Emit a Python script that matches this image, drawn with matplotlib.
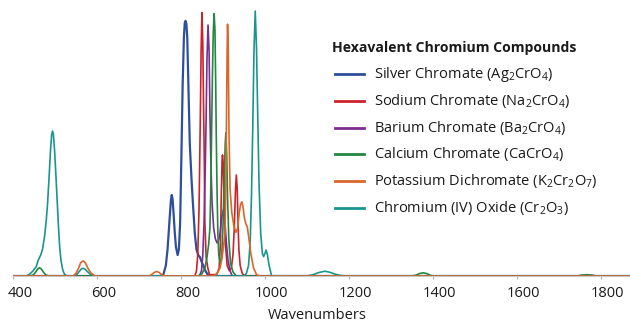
import matplotlib
matplotlib.use("Agg")
import matplotlib.pyplot as plt
from matplotlib.lines import Line2D
from matplotlib.transforms import ScaledTranslation

plt.rcParams["font.family"] = ["Open Sans", "DejaVu Sans"]
plt.rcParams["mathtext.default"] = "regular"

# Spektrai nuskaityti is paveikslo: (bangos skaicius, santykinis intensyvumas)
silver_x = [400, 750, 758, 764, 768, 771, 774, 776, 778, 780, 782, 785, 788, 792, 795,
            798, 801, 804, 807, 809, 811, 813, 815, 818, 821, 825, 828, 833, 837, 841,
            845, 849, 853, 858, 863, 869, 1870]
silver_y = [0, 0, 0.005, 0.04, 0.1, 0.17, 0.24, 0.285, 0.306, 0.29, 0.245, 0.17, 0.11, 0.079, 0.1,
            0.2, 0.45, 0.72, 0.9, 0.955, 0.963, 0.95, 0.9, 0.7, 0.5, 0.37, 0.287, 0.16, 0.1, 0.079,
            0.072, 0.055, 0.04, 0.02, 0.007, 0, 0]

sodium_x = [400, 833, 837, 840, 843, 846, 848, 850, 852, 854, 855.5, 857, 860, 864, 868,
            885, 891, 894, 896, 898, 899, 900.5, 903, 906, 910, 915, 920, 924, 927, 930,
            932, 934, 936, 938, 941, 946, 952, 1870]
sodium_y = [0, 0, 0.02, 0.08, 0.25, 0.58, 0.85, 0.994, 0.88, 0.62, 0.45, 0.2, 0.07, 0.03, 0.005,
            0.005, 0.03, 0.12, 0.3, 0.44, 0.457, 0.43, 0.28, 0.12, 0.04, 0.02, 0.03, 0.08, 0.18, 0.33,
            0.381, 0.33, 0.2, 0.1, 0.04, 0.01, 0, 0]

barium_x = [400, 844, 849, 852, 855, 858, 860, 862, 864.5, 867, 869, 871, 874, 878, 882,
            886, 889, 893, 897, 901, 904, 908, 912, 917, 922, 1745, 1755, 1767, 1779, 1790, 1870]
barium_y = [0, 0, 0.02, 0.08, 0.2, 0.42, 0.6, 0.82, 0.947, 0.85, 0.62, 0.45, 0.28, 0.18, 0.14,
            0.125, 0.13, 0.16, 0.22, 0.25, 0.22, 0.13, 0.06, 0.02, 0, 0, 0.002, 0.004, 0.002, 0, 0]

calcium_x = [400, 440, 448, 454, 459, 463, 467, 472, 478, 485, 840, 850, 857, 862, 866,
             869, 871, 873, 875, 877, 879, 881, 883, 884, 886, 888, 890, 893, 897, 900,
             903, 905.5, 907, 909, 911, 914, 918, 924, 932, 1350, 1360, 1368, 1377, 1386, 1394,
             1402, 1745, 1755, 1767, 1779, 1790, 1870]
calcium_y = [0, 0, 0.004, 0.015, 0.027, 0.031, 0.027, 0.015, 0.004, 0, 0, 0.008, 0.03, 0.07, 0.12,
             0.18, 0.32, 0.54, 0.76, 0.92, 0.99, 0.93, 0.7, 0.54, 0.32, 0.16, 0.08, 0.05, 0.07, 0.18,
             0.36, 0.5, 0.54, 0.46, 0.3, 0.14, 0.05, 0.015, 0, 0, 0.003, 0.009, 0.012, 0.009, 0.003,
             0, 0, 0.003, 0.005, 0.003, 0, 0]

potassium_x = [400, 543, 550, 556, 561, 567, 572, 578, 585, 595, 725, 732, 737, 742, 747,
               753, 760, 878, 886, 893, 898, 902, 905, 907, 908.5, 910, 911, 912.5, 914.5, 917,
               921, 926, 931, 935, 939, 942, 945, 948, 951, 955, 958, 962, 967, 973, 980,
               988, 1870]
potassium_y = [0, 0, 0.01, 0.03, 0.05, 0.057, 0.05, 0.03, 0.012, 0, 0, 0.008, 0.014, 0.017, 0.014,
               0.007, 0, 0, 0.01, 0.03, 0.07, 0.12, 0.16, 0.35, 0.6, 0.85, 0.95, 0.88, 0.54, 0.33,
               0.24, 0.19, 0.165, 0.18, 0.24, 0.27, 0.28, 0.26, 0.22, 0.195, 0.186, 0.14, 0.08, 0.03, 0.005,
               0, 0]

oxide_x = [400, 432, 440, 448, 455, 460, 466, 470, 475, 479, 482, 486, 489, 492, 494,
           496, 499, 502, 505, 508, 511, 514, 518, 522, 528, 545, 552, 558, 563, 567,
           572, 578, 585, 595, 950, 956, 961, 965, 968, 971, 974, 977, 980, 983, 986,
           990, 994, 997, 1000, 1003, 1006, 1010, 1016, 1100, 1115, 1128, 1143, 1155, 1167, 1180,
           1195, 1870]
oxide_y = [0, 0, 0.008, 0.02, 0.035, 0.06, 0.08, 0.1, 0.15, 0.21, 0.27, 0.38, 0.47, 0.535, 0.547,
           0.535, 0.47, 0.38, 0.285, 0.19, 0.11, 0.06, 0.025, 0.008, 0, 0, 0.006, 0.018, 0.027, 0.029,
           0.025, 0.015, 0.006, 0, 0, 0.01, 0.04, 0.13, 0.3, 0.55, 0.85, 1.0, 0.86, 0.6, 0.35,
           0.16, 0.085, 0.073, 0.085, 0.098, 0.08, 0.04, 0, 0, 0.005, 0.013, 0.018, 0.014, 0.007, 0.002,
           0, 0]

labels = [
    "Silver Chromate (Ag$_2$CrO$_4$)",
    "Sodium Chromate (Na$_2$CrO$_4$)",
    "Barium Chromate (Ba$_2$CrO$_4$)",
    "Calcium Chromate (CaCrO$_4$)",
    "Potassium Dichromate (K$_2$Cr$_2$O$_7$)",
    "Chromium (IV) Oxide (Cr$_2$O$_3$)",
]
colors = ["#2d4f9e", "#cc2229", "#7d2d8e", "#22883f", "#d9672a", "#19958f"]
series = [(silver_x, silver_y), (sodium_x, sodium_y), (barium_x, barium_y),
          (calcium_x, calcium_y), (potassium_x, potassium_y), (oxide_x, oxide_y)]
xticks = [400, 600, 800, 1000, 1200, 1400, 1600, 1800]

W, H = 630, 326
fig = plt.figure(figsize=(W / 100, H / 100), dpi=100)
ax = fig.add_axes([13.1 / W, 1 - 276 / H, 1 - 13.1 / W, 276 / H])

# piesimo tvarka: oranzine virsuje prie bazines linijos
order = [0, 1, 2, 3, 5, 4]
for i in order:
    xs, ys = series[i]
    ax.plot(xs, ys, color=colors[i], lw=1.6 if i == 0 else 1.2,
            solid_joinstyle="round", zorder=3 + order.index(i))

ax.set_xlim(400, 1870)
ax.set_ylim(0, 276 / 265)
for s in ["top", "right", "left"]:
    ax.spines[s].set_visible(False)
ax.spines["bottom"].set_color("#c8c8c8")
ax.spines["bottom"].set_linewidth(0.8)
ax.set_yticks([])
ax.set_xticks(xticks)
ax.tick_params(axis="x", length=2.5, width=0.8, color="#b0b0b0", pad=5,
               labelsize=10.5, labelcolor="#1a1a1a")
offset = ScaledTranslation(7 / 100, 0, fig.dpi_scale_trans)
for lab in ax.get_xticklabels():
    lab.set_transform(lab.get_transform() + offset)
ax.set_xlabel("Wavenumbers", fontsize=10.5, color="#1a1a1a", labelpad=6)
ax.xaxis.set_label_coords((317 - 13.1) / (W - 13.1), -0.115)

# legenda (rankiniu budu, kad sutaptu pozicijos)
fig.text(331.7 / W, 1 - 47.7 / H, "Hexavalent Chromium Compounds", fontsize=10.1,
         fontweight="bold", color="#1a1a1a", ha="left", va="center")
ys_leg = [74, 100.7, 127.5, 154.3, 181.2, 207.8]
for lab, c, yy in zip(labels, colors, ys_leg):
    fy = 1 - yy / H
    fig.add_artist(Line2D([335 / W, 364 / W], [fy, fy], color=c, lw=2.0,
                          transform=fig.transFigure))
    fig.text(374 / W, fy, lab, fontsize=10.5, color="#1a1a1a", ha="left", va="center")

fig.savefig("out.png", dpi=100)
